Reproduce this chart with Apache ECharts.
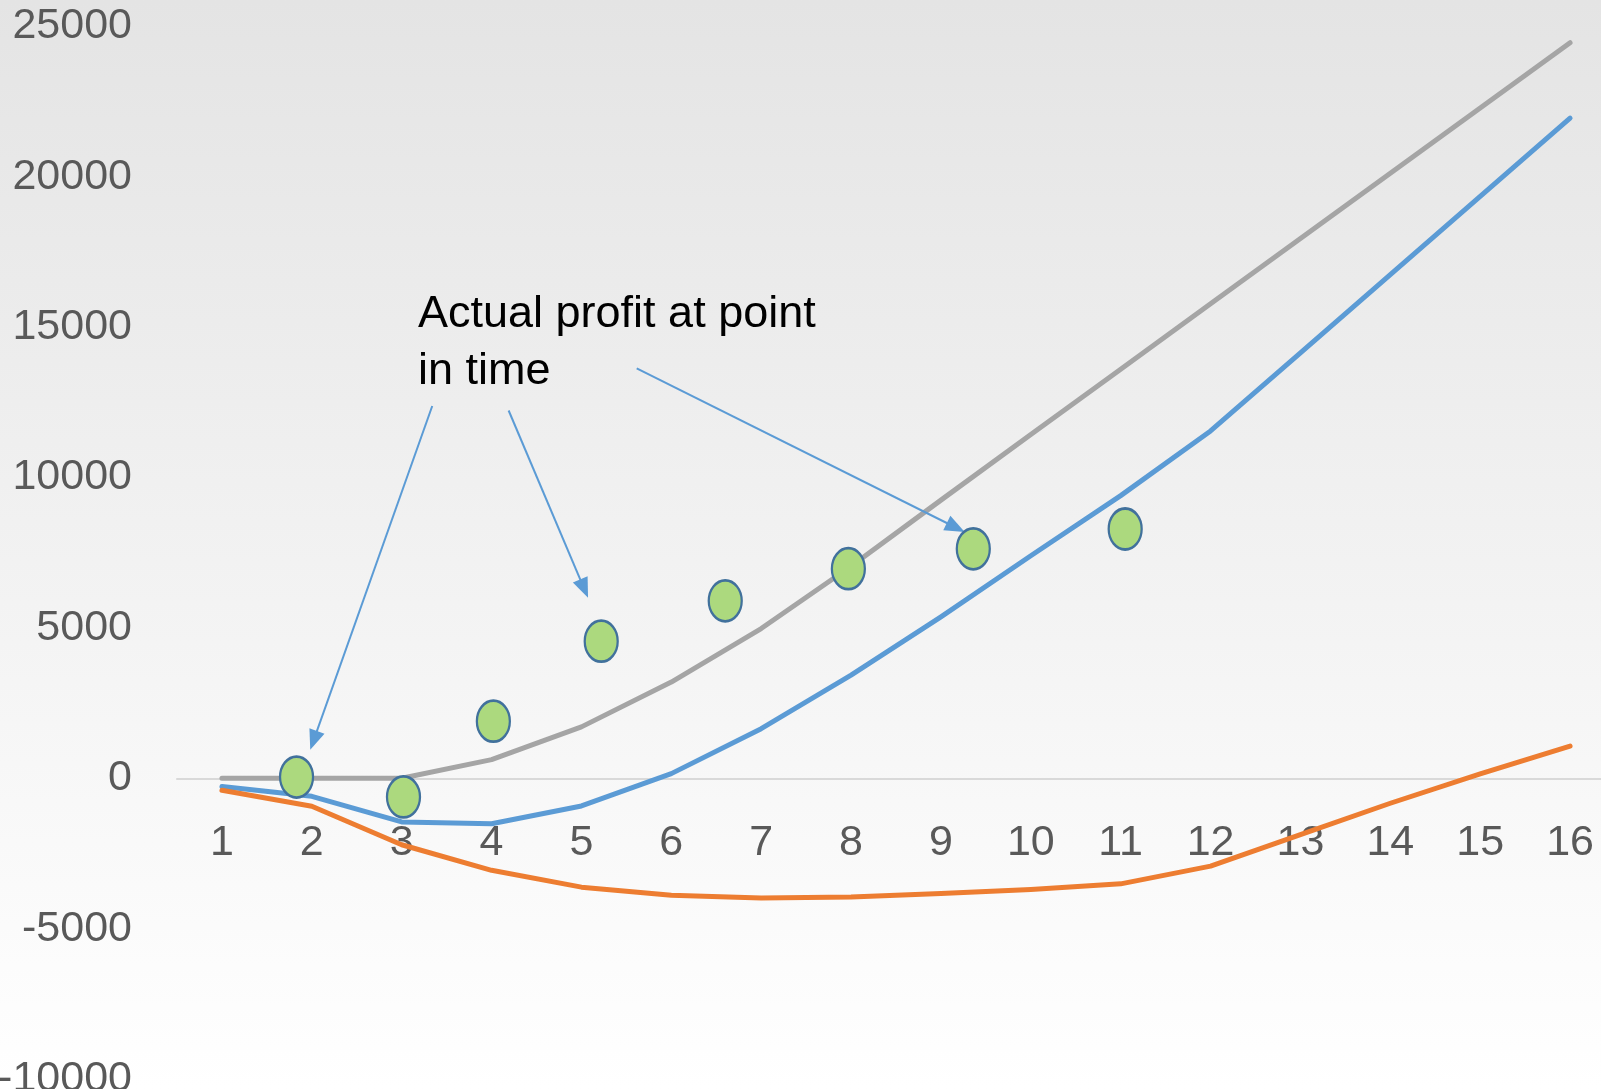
<!DOCTYPE html>
<html>
<head>
<meta charset="utf-8">
<script src="https://cdn.jsdelivr.net/npm/echarts@6/dist/echarts.min.js"></script>
<style>
html,body{margin:0;padding:0;}
#chart{width:1601px;height:1089px;background:linear-gradient(to bottom,#e4e4e4 0%,#f7f7f7 70%,#ffffff 100%);}
</style>
</head>
<body>
<div id="chart"></div>
<script>
// Data
const categories = ['1','2','3','4','5','6','7','8','9','10','11','12','13','14','15','16'];
const blueSeries = [-270,-600,-1450,-1510,-920,155,1650,3430,5370,7400,9400,11550,14150,16750,19350,21950];
const orangeSeries = [-400,-930,-2210,-3060,-3620,-3890,-3980,-3950,-3830,-3700,-3510,-2920,-1870,-830,150,1070];
const graySeries = [0,0,0,620,1710,3200,4980,7050,9250,11430,13600,15780,17950,20120,22290,24460];
const actualX = [1.83,3.02,4.02,5.22,6.6,7.97,9.36,11.05];
const actualY = [40,-620,1900,4560,5900,6970,7630,8290];
const yMin = -10000, yMax = 25000, yStep = 5000;
const annotationText = 'Actual profit at point\nin time';
// arrow anchors in data coordinates [x (category position), value]
const arrowStarts = [[3.34,12380],[4.19,12230],[5.615,13630]];
const arrowEnds = [[2.02,1260],[5.03,6310],[9.165,8340]];

const FONT = '"Liberation Sans", Arial, sans-serif';
const chart = echarts.init(document.getElementById('chart'));

const GRID_TOP = 26.5, GRID_BOTTOM = 10, H = 1089;
const gridH = H - GRID_TOP - GRID_BOTTOM;
const zeroOffset = gridH * (0 - yMin) / (yMax - yMin); // distance from grid bottom to zero line

const lineStyleBase = {width: 5, cap: 'round', join: 'round'};

chart.setOption({
  backgroundColor: 'transparent',
  animation: false,
  grid: {left: 177, top: GRID_TOP, width: 1438, bottom: GRID_BOTTOM, containLabel: false, outerBoundsMode: 'none'},
  xAxis: [
    {
      type: 'category',
      data: categories,
      boundaryGap: true,
      position: 'bottom',
      offset: -zeroOffset,
      axisLine: {onZero: false, lineStyle: {color: '#d9d9d9', width: 2}},
      axisTick: {show: false},
      axisLabel: {fontSize: 43, color: '#595959', margin: 43, fontFamily: FONT},
      splitLine: {show: false}
    },
    {
      type: 'value',
      min: 0.5,
      max: 16.5,
      show: false
    }
  ],
  yAxis: {
    type: 'value',
    min: yMin,
    max: yMax,
    interval: yStep,
    axisLine: {show: false},
    axisTick: {show: false},
    splitLine: {show: false},
    axisLabel: {fontSize: 43, color: '#595959', margin: 45, fontFamily: FONT, formatter: v => String(v)}
  },
  series: [
    {
      name: 'Blue', type: 'line', data: blueSeries, showSymbol: false, symbol: 'none', z: 3,
      lineStyle: Object.assign({color: '#5b9bd5'}, lineStyleBase), itemStyle: {color: '#5b9bd5'}
    },
    {
      name: 'Orange', type: 'line', data: orangeSeries, showSymbol: false, symbol: 'none', z: 3,
      lineStyle: Object.assign({color: '#ed7d31'}, lineStyleBase), itemStyle: {color: '#ed7d31'}
    },
    {
      name: 'Gray', type: 'line', data: graySeries, showSymbol: false, symbol: 'none', z: 3,
      lineStyle: Object.assign({color: '#a5a5a5'}, lineStyleBase), itemStyle: {color: '#a5a5a5'}
    },
    {
      name: 'Actual', type: 'scatter', xAxisIndex: 1, z: 5,
      data: actualX.map((x, i) => [x, actualY[i]]),
      symbol: 'circle',
      symbolSize: [33, 41],
      itemStyle: {color: '#acd97e', borderColor: '#41719c', borderWidth: 2.5, opacity: 1},
      markLine: {
        silent: true,
        symbol: ['none', 'triangle'],
        symbolSize: [16, 20],
        label: {show: false},
        lineStyle: {color: '#5b9bd5', width: 2, type: 'solid'},
        data: arrowStarts.map((s, i) => [{coord: s}, {coord: arrowEnds[i]}])
      }
    }
  ],
  graphic: [
    {
      type: 'text',
      left: 418,
      top: 286,
      z: 10,
      style: {
        text: annotationText,
        font: '45px ' + FONT,
        lineHeight: 57,
        fill: '#000000'
      }
    }
  ]
});
</script>
</body>
</html>
